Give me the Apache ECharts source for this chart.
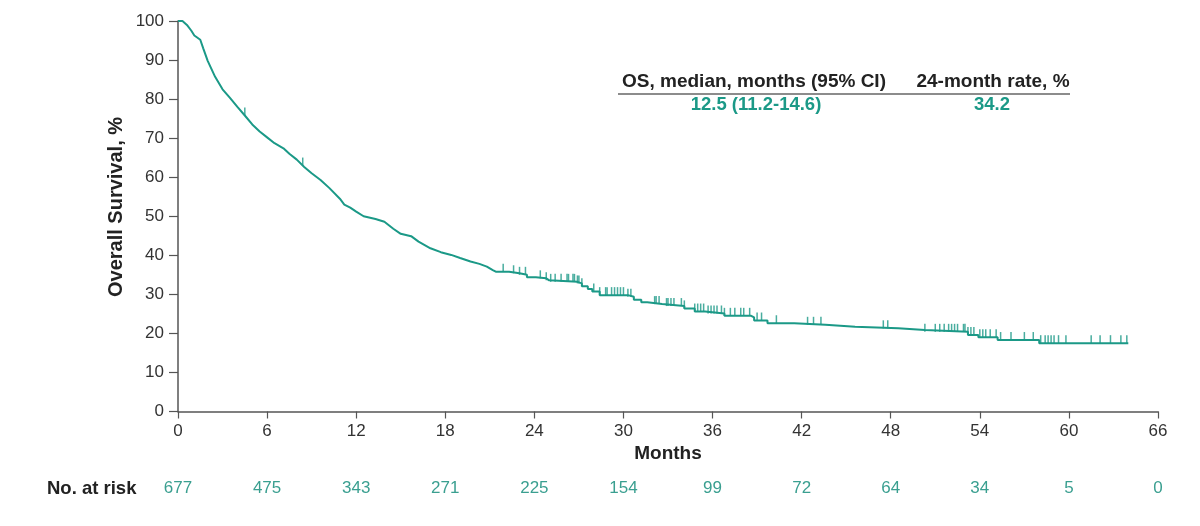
<!DOCTYPE html>
<html>
<head>
<meta charset="utf-8">
<script src="https://cdn.jsdelivr.net/npm/echarts@6/dist/echarts.min.js"></script>
<style>
  html, body { margin: 0; padding: 0; background: #fff; }
  #chart { width: 1200px; height: 526px; }
</style>
</head>
<body>
<div id="chart"></div>
<script>
// x axis ticks (months) and numbers at risk under each tick
var monthTicks = [0, 6, 12, 18, 24, 30, 36, 42, 48, 54, 60, 66];
var atRisk = [677, 475, 343, 271, 225, 154, 99, 72, 64, 34, 5, 0];

// early part of the KM curve [month, OS %]
var earlyCurve = [
    [0, 100], [0.3, 100], [0.6, 99], [0.9, 97.5], [1.1, 96.3], [1.5, 95.2],
    [1.7, 93], [2.0, 89.8], [2.5, 85.7], [3.0, 82.5], [3.5, 80.3], [4.0, 78],
    [4.5, 75.8], [5.0, 73.5], [5.5, 71.7], [6.0, 70.2], [6.5, 68.7], [7.1, 67.4],
    [7.5, 66], [8.0, 64.5], [8.5, 62.6], [9.0, 61], [9.6, 59.3], [10.2, 57.2],
    [10.9, 54.5], [11.2, 53], [11.6, 52.2], [12.0, 51.2], [12.5, 50.0], [13.3, 49.3],
    [13.9, 48.6], [14.5, 46.8], [15.0, 45.5], [15.7, 44.9], [16.2, 43.5], [17.0, 41.8],
    [17.7, 40.8], [18.4, 40.1], [19.0, 39.3], [19.7, 38.4], [20.3, 37.8], [20.8, 37.1],
    [21.2, 36.2], [21.4, 35.8]
];

// later part: step times and the value after each step
var stepTimes = [22.3, 23.0, 23.5, 24.1, 24.8, 25.0, 26.9, 27.2, 27.6, 27.9, 28.4,
    30.3, 30.7, 31.2, 31.6, 32.6, 34.1, 34.8, 35.5, 36.8, 38.6, 38.8, 39.7, 41.5,
    43.6, 45.6, 48.5, 50.3, 53.2, 53.9, 55.2, 58.0];
var stepValues = [35.4, 35.0, 34.4, 34.1, 33.6, 33.2, 32.8, 32.1, 31.4, 30.7, 29.8,
    29.4, 28.6, 28.0, 27.5, 27.0, 26.4, 25.6, 25.1, 24.5, 24.1, 23.3, 22.6, 22.2,
    21.7, 21.3, 20.9, 20.4, 19.6, 19.0, 18.3, 17.5];
var lastTime = 64.0;

// censored observations (months)
var censorTimes = [4.5, 8.4, 21.9, 22.6, 23.0, 23.4, 24.4, 24.8, 25.1, 25.4, 25.8,
    26.2, 26.3, 26.6, 26.7, 26.9, 27.0, 27.2, 28.0, 28.4, 28.8, 28.9, 29.2, 29.4,
    29.6, 29.8, 30.0, 30.3, 30.5, 32.1, 32.2, 32.4, 32.9, 33.0, 33.2, 33.4, 33.9,
    34.1, 34.8, 35.0, 35.2, 35.4, 35.7, 35.9, 36.1, 36.3, 36.6, 36.8, 37.2, 37.5,
    37.9, 38.1, 38.5, 39.0, 39.3, 40.3, 42.4, 42.8, 43.3, 47.5, 47.8, 50.3, 51.0,
    51.3, 51.6, 51.9, 52.1, 52.3, 52.5, 52.9, 53.0, 53.2, 53.4, 53.6, 54.0, 54.2,
    54.4, 54.7, 55.1, 55.4, 56.1, 57.0, 57.6, 58.1, 58.4, 58.6, 58.8, 59.0, 59.3,
    59.8, 61.5, 62.1, 62.8, 63.5, 63.9];

var teal = '#1b9987';
var fontFam = 'Liberation Sans, Arial, sans-serif';

// build the curve
var curve = earlyCurve.slice();
var prev = earlyCurve[earlyCurve.length - 1][1];
for (var i = 0; i < stepTimes.length; i++) {
    curve.push([stepTimes[i], prev]);
    curve.push([stepTimes[i], stepValues[i]]);
    prev = stepValues[i];
}
curve.push([lastTime, prev]);

// survival on the drawn curve at time t
function valueAt(t) {
    var v = curve[0][1];
    for (var k = 0; k < curve.length - 1; k++) {
        var a = curve[k], b = curve[k + 1];
        if (t >= a[0] && t <= b[0]) {
            if (b[0] === a[0]) { v = b[1]; continue; }
            v = a[1] + (b[1] - a[1]) * (t - a[0]) / (b[0] - a[0]);
        }
    }
    return v;
}

var censorData = censorTimes.map(function (t) { return [t, valueAt(t)]; });

var chart = echarts.init(document.getElementById('chart'));

var option = {
    animation: false,
    textStyle: { fontFamily: fontFam },
    grid: { left: 178, right: 42, top: 21, bottom: 114.5 },
    xAxis: [
        {
            type: 'value',
            min: 0, max: 66, interval: 6,
            name: 'Months',
            nameLocation: 'middle',
            nameGap: 33,
            nameTextStyle: { fontSize: 19, fontWeight: 'bold', color: '#222' },
            axisLine: { lineStyle: { color: '#555', width: 1.5 } },
            axisTick: { length: 7, lineStyle: { color: '#555', width: 1.2 } },
            axisLabel: { fontSize: 17, color: '#333', margin: 11 },
            splitLine: { show: false }
        },
        {
            type: 'value',
            position: 'bottom',
            min: 0, max: 66, interval: 6,
            axisLine: { show: false },
            axisTick: { show: false },
            axisLabel: {
                fontSize: 17, color: '#3a9f90', margin: 68,
                formatter: function (v) {
                    var idx = monthTicks.indexOf(v);
                    return idx >= 0 ? String(atRisk[idx]) : '';
                }
            },
            splitLine: { show: false }
        }
    ],
    yAxis: {
        type: 'value',
        min: 0, max: 100, interval: 10,
        axisLine: { show: true, lineStyle: { color: '#555', width: 1.5 } },
        axisTick: { show: true, length: 9, lineStyle: { color: '#555', width: 1.2 } },
        axisLabel: { fontSize: 17, color: '#333', margin: 14 },
        splitLine: { show: false }
    },
    graphic: [
        {
            type: 'text', x: 116, y: 207, rotation: Math.PI / 2,
            style: { text: 'Overall Survival, %', font: 'bold 20px ' + fontFam, fill: '#222', align: 'center', verticalAlign: 'middle' }
        },
        {
            type: 'text', left: 47, top: 479,
            style: { text: 'No. at risk', font: 'bold 18.5px ' + fontFam, fill: '#222' }
        },
        {
            type: 'text', x: 754, y: 82,
            style: { text: 'OS, median, months (95% CI)', font: 'bold 19px ' + fontFam, fill: '#222', align: 'center', verticalAlign: 'middle' }
        },
        {
            type: 'text', x: 993, y: 82,
            style: { text: '24-month rate, %', font: 'bold 19px ' + fontFam, fill: '#222', align: 'center', verticalAlign: 'middle' }
        },
        {
            type: 'line',
            shape: { x1: 618, y1: 94, x2: 1070, y2: 94 },
            style: { stroke: '#666', lineWidth: 1.5 }
        },
        {
            type: 'text', x: 756, y: 105,
            style: { text: '12.5 (11.2-14.6)', font: 'bold 18.5px ' + fontFam, fill: teal, align: 'center', verticalAlign: 'middle' }
        },
        {
            type: 'text', x: 992, y: 105,
            style: { text: '34.2', font: 'bold 18.5px ' + fontFam, fill: teal, align: 'center', verticalAlign: 'middle' }
        }
    ],
    series: [
        {
            name: 'OS',
            type: 'line',
            data: curve,
            showSymbol: false,
            lineStyle: { color: teal, width: 2 },
            silent: true
        },
        {
            name: 'Censored',
            type: 'scatter',
            data: censorData,
            symbol: 'rect',
            symbolSize: [1.5, 8],
            symbolOffset: [0, -4],
            itemStyle: { color: teal },
            silent: true
        }
    ]
};

chart.setOption(option);
</script>
</body>
</html>
